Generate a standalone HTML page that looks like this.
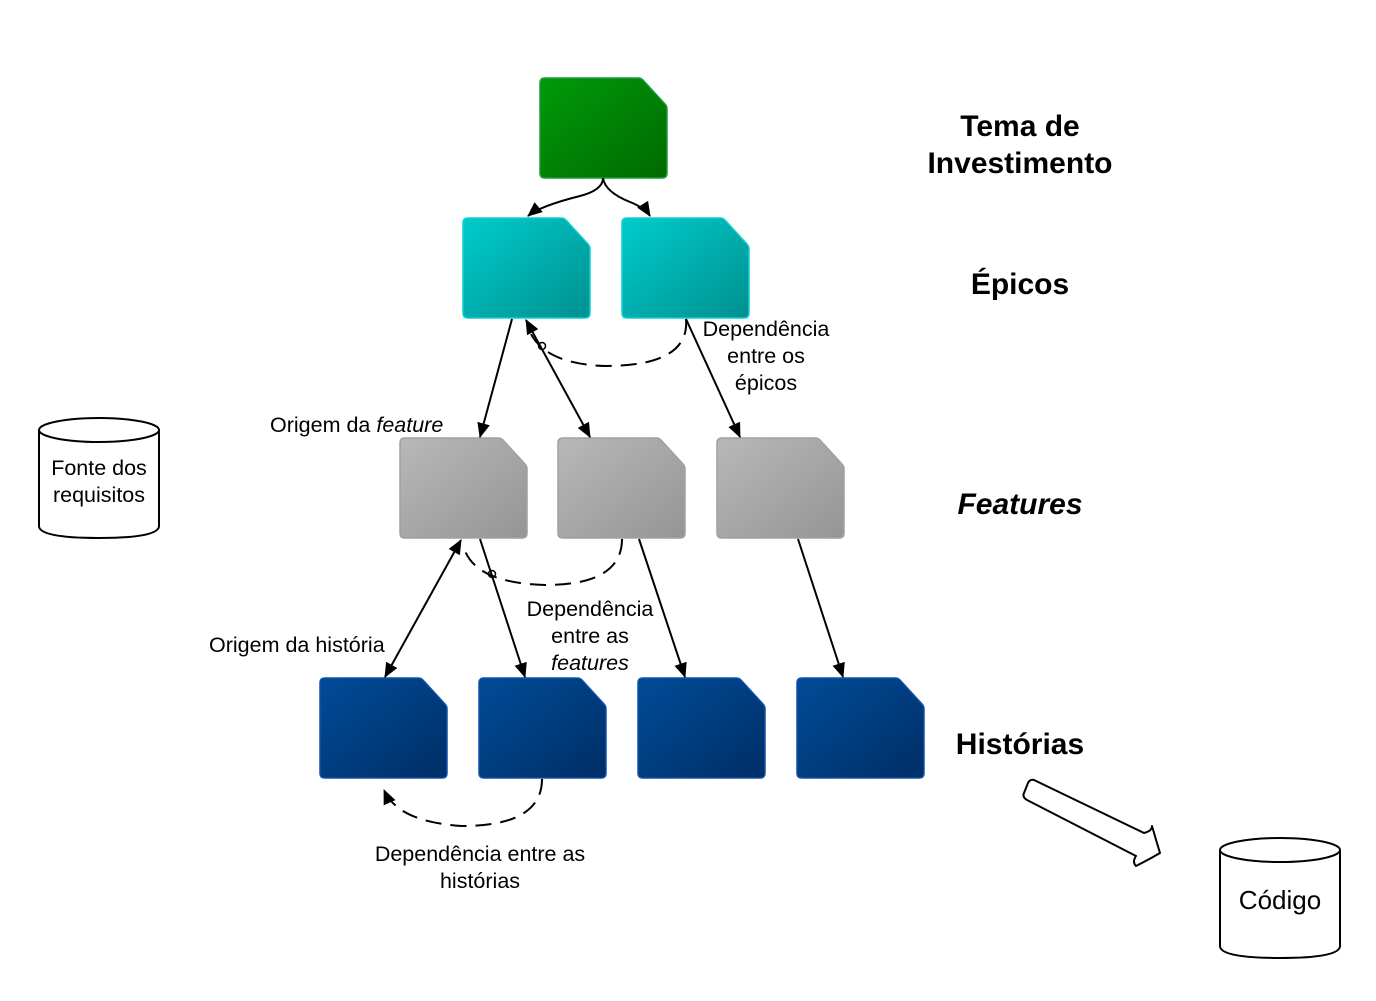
<!DOCTYPE html>
<html><head><meta charset="utf-8"><style>
html,body{margin:0;padding:0;background:#fff}
svg{display:block}
text{font-family:"Liberation Sans",sans-serif;fill:#000}
</style></head><body>
<svg width="1376" height="1001" viewBox="0 0 1376 1001" xmlns="http://www.w3.org/2000/svg">
<defs>
<linearGradient id="gG" x1="0" y1="0" x2="1" y2="1"><stop offset="0" stop-color="#009a0a"/><stop offset="1" stop-color="#006a00"/></linearGradient>
<linearGradient id="gC" x1="0" y1="0" x2="1" y2="1"><stop offset="0" stop-color="#00cccc"/><stop offset="1" stop-color="#009090"/></linearGradient>
<linearGradient id="gF" x1="0" y1="0" x2="1" y2="1"><stop offset="0" stop-color="#b8b8b8"/><stop offset="1" stop-color="#959595"/></linearGradient>
<linearGradient id="gB" x1="0" y1="0" x2="1" y2="1"><stop offset="0" stop-color="#004c98"/><stop offset="1" stop-color="#002e66"/></linearGradient>
<path id="doc" d="M5,0 H98 Q101,0 103,2 L125,26 Q127,28 127,31 V95 Q127,100 122,100 H5 Q0,100 0,95 V5 Q0,0 5,0 Z"/>
<marker id="ah" viewBox="0 0 14 14" refX="13" refY="7" markerWidth="15" markerHeight="15" markerUnits="userSpaceOnUse" orient="auto-start-reverse"><path d="M0,1 L14,7 L0,13 Z" fill="#000"/></marker>
</defs>

<use href="#doc" x="540" y="78" fill="url(#gG)" stroke="#1a9a3a" stroke-width="1.5"/>
<use href="#doc" x="463" y="218" fill="url(#gC)" stroke="#10d0d0" stroke-width="1.5"/>
<use href="#doc" x="622" y="218" fill="url(#gC)" stroke="#10d0d0" stroke-width="1.5"/>
<use href="#doc" x="400" y="438" fill="url(#gF)" stroke="#a0a0a0" stroke-width="1.5"/>
<use href="#doc" x="558" y="438" fill="url(#gF)" stroke="#a0a0a0" stroke-width="1.5"/>
<use href="#doc" x="717" y="438" fill="url(#gF)" stroke="#a0a0a0" stroke-width="1.5"/>
<use href="#doc" x="320" y="678" fill="url(#gB)" stroke="#1050a8" stroke-width="1.5"/>
<use href="#doc" x="479" y="678" fill="url(#gB)" stroke="#1050a8" stroke-width="1.5"/>
<use href="#doc" x="638" y="678" fill="url(#gB)" stroke="#1050a8" stroke-width="1.5"/>
<use href="#doc" x="797" y="678" fill="url(#gB)" stroke="#1050a8" stroke-width="1.5"/>

<g fill="none" stroke="#000" stroke-width="2">
<path d="M603,178 Q603,190 580,196 Q540,206 528,216" marker-end="url(#ah)"/>
<path d="M603,178 Q605,192 630,202 Q645,208 650,216" marker-end="url(#ah)"/>
<line x1="512" y1="319" x2="480" y2="437" marker-end="url(#ah)"/>
<line x1="590" y1="437" x2="526" y2="320" marker-start="url(#ah)" marker-end="url(#ah)"/>
<line x1="686" y1="319" x2="740" y2="437" marker-end="url(#ah)"/>
<line x1="461" y1="540" x2="385" y2="677" marker-start="url(#ah)" marker-end="url(#ah)"/>
<line x1="480" y1="539" x2="525" y2="677" marker-end="url(#ah)"/>
<line x1="639" y1="539" x2="685" y2="677" marker-end="url(#ah)"/>
<line x1="798" y1="539" x2="843" y2="677" marker-end="url(#ah)"/>
<path d="M686,319 Q690,366 605,366 Q545,364 530,332" stroke-dasharray="16,9"/>
<path d="M622,539 Q622,585 545,585 Q475,583 464,548" stroke-dasharray="16,9"/>
<path d="M542,779 Q542,826 462,826 Q398,822 384,790" stroke-dasharray="16,9" marker-end="url(#ah)"/>
<circle cx="542" cy="346" r="3.5" stroke-width="1.5"/>
<circle cx="492" cy="574" r="3.5" stroke-width="1.5"/>
</g>

<g fill="#fff" stroke="#000" stroke-width="2">
<path d="M39,430 V526 Q39,538 99,538 Q159,538 159,526 V430"/>
<ellipse cx="99" cy="430" rx="60" ry="12"/>
<path d="M1220,850 V946 Q1220,958 1280,958 Q1340,958 1340,946 V850"/>
<ellipse cx="1280" cy="850" rx="60" ry="12"/>
<path d="M1034,780 L1144,833 Q1152,831 1152,826 Q1156,840 1160,853 Q1148,860 1136,866 Q1132,862 1136,856 L1027,800 Q1022,797 1024,793 L1028,783 Q1030,779 1034,780 Z" stroke-linejoin="round"/>
</g>

<g text-anchor="middle">
<text x="1020" y="136" font-size="30" font-weight="bold">Tema de</text>
<text x="1020" y="173" font-size="30" font-weight="bold">Investimento</text>
<text x="1020" y="294" font-size="30" font-weight="bold">Épicos</text>
<text x="1020" y="514" font-size="30" font-weight="bold" font-style="italic">Features</text>
<text x="1020" y="754" font-size="30" font-weight="bold">Histórias</text>
<text x="766" y="336" font-size="21.5">Dependência</text>
<text x="766" y="363" font-size="21.5">entre os</text>
<text x="766" y="390" font-size="21.5">épicos</text>
<text x="590" y="616" font-size="21.5">Dependência</text>
<text x="590" y="643" font-size="21.5">entre as</text>
<text x="590" y="670" font-size="21.5" font-style="italic">features</text>
<text x="480" y="861" font-size="21.5">Dependência entre as</text>
<text x="480" y="888" font-size="21.5">histórias</text>
<text x="99" y="475" font-size="21.5">Fonte dos</text>
<text x="99" y="502" font-size="21.5">requisitos</text>
<text x="1280" y="909" font-size="26">Código</text>
</g>
<text x="270" y="432" font-size="21.5">Origem da <tspan font-style="italic">feature</tspan></text>
<text x="209" y="652" font-size="21.5">Origem da história</text>
</svg>
</body></html>
